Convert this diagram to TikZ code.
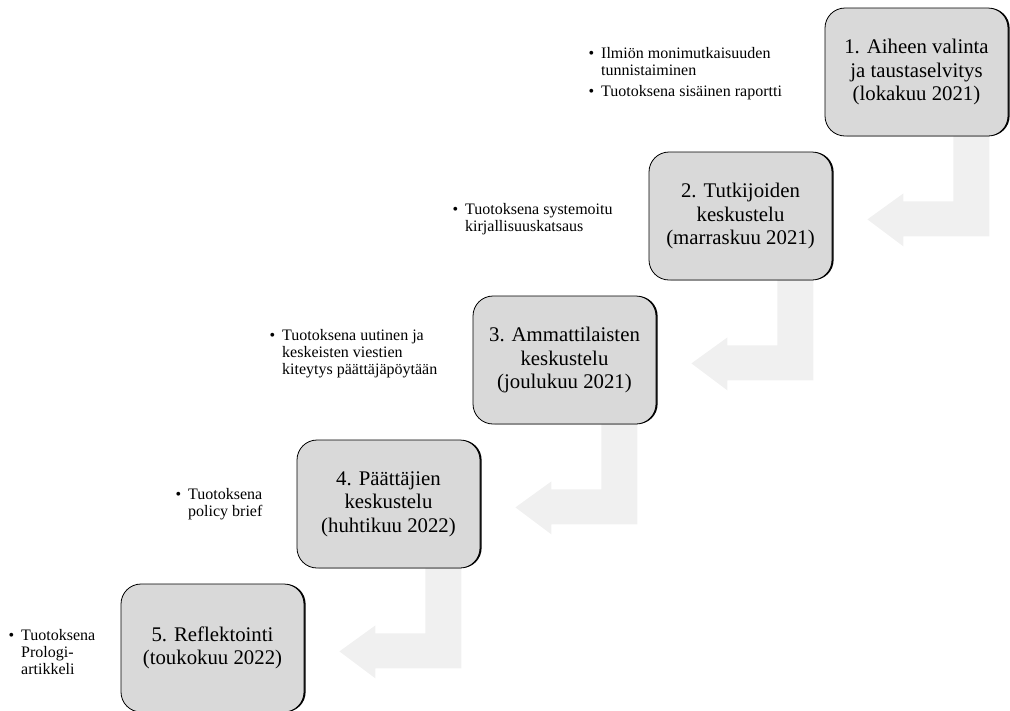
\documentclass[tikz,border=0pt]{standalone}
\usepackage{fontspec}
\setmainfont{Liberation Serif}
\usetikzlibrary{backgrounds,shadows}
\definecolor{stagegray}{HTML}{D9D9D9}
\definecolor{bendgray}{HTML}{F0F0F0}
\tikzset{
  stage/.style={draw=black, line width=0.8pt, fill=stagegray, rounded corners=20pt,
    minimum width=183pt, minimum height=128pt, align=center,
    font=\fontsize{20.8}{23.5}\selectfont,
    general shadow={shadow xshift=1.6pt, shadow yshift=0pt, fill=black}},
  note/.style={anchor=west, inner sep=0pt, align=left,
    font=\fontsize{16}{17}\selectfont},
  bendarrow/.style={fill=bendgray, draw=none}
}
\newcommand{\bul}{\llap{\textbullet\hspace{7pt}}}
\begin{document}
\begin{tikzpicture}[x=1pt,y=-1pt]
    \useasboundingbox (0,0) rectangle (1010,710);
    %% stages
    \node[stage] (box1) at (916.5,72) {1. Aiheen valinta\\ja taustaselvitys\\(lokakuu 2021)};
    \node[stage] (box2) at (740.5,216) {2. Tutkijoiden\\keskustelu\\(marraskuu 2021)};
    \node[stage] (box3) at (564.5,360) {3. Ammattilaisten\\keskustelu\\(joulukuu 2021)};
    \node[stage] (box4) at (388.5,504) {4. Päättäjien\\keskustelu\\(huhtikuu 2022)};
    \node[stage] (box5) at (212.5,648) {5. Reflektointi\\(toukokuu 2022)};
    %% outputs
    \node[note] (note1) at (601,74) {\bul Ilmiön monimutkaisuuden\\tunnistaiminen\\[4pt]\bul Tuotoksena sisäinen raportti};
    \node[note] (note2) at (465,219) {\bul Tuotoksena systemoitu\\kirjallisuuskatsaus};
    \node[note] (note3) at (282,354) {\bul Tuotoksena uutinen ja\\keskeisten viestien\\kiteytys päättäjäpöytään};
    \node[note] (note4) at (188,504) {\bul Tuotoksena\\policy brief};
    \node[note] (note5) at (21,652) {\bul Tuotoksena\\Prologi-\\artikkeli};
    %% bent arrows
    \begin{scope}[on background layer]
    \foreach \i in {1,...,4} {
        \fill[bendarrow,shift={(box\i.south east)}] (-55,-5) -- (-19,-5) -- (-19,100)
            -- (-105,100) -- (-105,110) -- (-141,83) -- (-105,57) -- (-105,65)
            -- (-55,65) -- cycle;
    }
    \end{scope}
\end{tikzpicture}
\end{document}
